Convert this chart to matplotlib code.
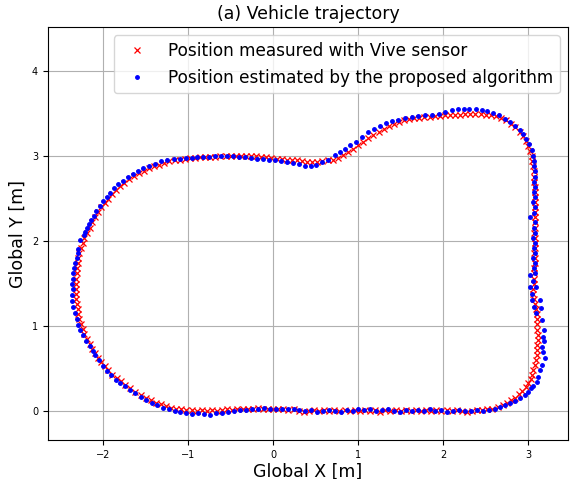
import matplotlib
matplotlib.use("Agg")
import matplotlib.pyplot as plt

# measured trajectory (Vive sensor)
meas_x = [-0.96, -0.90, -0.84, -0.78, -0.72, -0.66, -0.60, -0.54, -0.48, -0.42, -0.36, -0.30, -0.24, -0.18,
          -0.12, -0.06, 0.00, 0.06, 0.12, 0.18, 0.24, 0.30, 0.36, 0.42, 0.48, 0.54, 0.60, 0.66, 0.72, 0.78,
          0.84, 0.90, 0.96, 1.02, 1.08, 1.14, 1.20, 1.26, 1.32, 1.38, 1.44, 1.50, 1.56, 1.62, 1.68, 1.74,
          1.80, 1.86, 1.92, 1.98, 2.04, 2.10, 2.16, 2.22, 2.28, 2.34, 2.40, 2.46,
          2.52, 2.58, 2.64, 2.70, 2.75, 2.80, 2.85, 2.89, 2.93, 2.97, 3.00, 3.03, 3.05, 3.06, 3.08, 3.09,
          3.10, 3.11, 3.11, 3.12, 3.12, 3.11, 3.11, 3.10, 3.10, 3.09, 3.08, 3.07, 3.06, 3.06, 3.07, 3.07,
          3.07, 3.07, 3.08, 3.08, 3.07, 3.08, 3.08, 3.08, 3.07, 3.08, 3.08, 3.08, 3.08, 3.08, 3.08, 3.08,
          3.08, 3.08, 3.07, 3.07, 3.07, 3.06, 3.05, 3.04, 3.02, 3.00, 2.97, 2.94, 2.90, 2.85, 2.80, 2.74,
          2.68, 2.62, 2.56, 2.50, 2.44, 2.38, 2.32, 2.26, 2.20, 2.14, 2.08, 2.02, 1.96, 1.90, 1.84, 1.78,
          1.72, 1.66, 1.60, 1.54, 1.48, 1.42, 1.36, 1.30, 1.24, 1.18, 1.12, 1.06, 1.00, 0.94, 0.88, 0.82,
          0.76, 0.70, 0.64, 0.58, 0.52, 0.46, 0.40, 0.34, 0.28, 0.22, 0.16, 0.10, 0.04, -0.02, -0.08, -0.14,
          -0.20, -0.26, -0.32, -0.38, -0.44, -0.50, -0.56, -0.62, -0.68, -0.74, -0.80, -0.86, -0.92, -0.98,
          -1.04, -1.10, -1.16, -1.22, -1.28, -1.34, -1.40, -1.46, -1.52, -1.58, -1.64, -1.70, -1.75, -1.80,
          -1.85, -1.90, -1.94, -1.98, -2.02, -2.06, -2.10, -2.13, -2.16, -2.19, -2.22, -2.24, -2.26, -2.28,
          -2.29, -2.30, -2.31, -2.31, -2.32, -2.32, -2.32, -2.32, -2.32, -2.31, -2.30, -2.29, -2.28, -2.26,
          -2.24, -2.22, -2.19, -2.16, -2.13, -2.10, -2.06, -2.02, -1.98, -1.94, -1.89, -1.84, -1.79, -1.74,
          -1.68, -1.62, -1.56, -1.50, -1.44, -1.38, -1.32, -1.26, -1.20, -1.14, -1.08, -1.02]
meas_y = [0.01, 0.00, 0.01, 0.00, 0.01, 0.00, 0.01, 0.02, 0.01, 0.02, 0.02, 0.03, 0.03, 0.04,
          0.03, 0.03, 0.02, 0.02, 0.02, 0.01, 0.02, 0.00, -0.01, 0.00, 0.01, 0.00, 0.01, 0.00, 0.01, 0.00,
          0.01, 0.00, 0.01, 0.00, 0.01, 0.00, 0.01, -0.01, 0.01, 0.00, 0.01, 0.00, 0.01, 0.00, 0.01, 0.00,
          0.01, 0.00, 0.01, 0.00, 0.01, 0.00, 0.01, 0.00, -0.01, 0.00, 0.01, 0.01,
          0.02, 0.03, 0.05, 0.07, 0.10, 0.13, 0.16, 0.20, 0.24, 0.28, 0.33, 0.38, 0.43, 0.48, 0.54, 0.60,
          0.66, 0.72, 0.78, 0.84, 0.90, 0.96, 1.02, 1.08, 1.14, 1.20, 1.26, 1.32, 1.38, 1.44, 1.50, 1.56,
          1.62, 1.68, 1.74, 1.80, 1.86, 1.92, 1.98, 2.04, 2.10, 2.16, 2.22, 2.28, 2.34, 2.40, 2.46, 2.52,
          2.58, 2.64, 2.70, 2.76, 2.82, 2.88, 2.94, 3.00, 3.06, 3.12, 3.18, 3.24, 3.29, 3.34, 3.38, 3.42,
          3.45, 3.47, 3.48, 3.49, 3.50, 3.50, 3.50, 3.50, 3.49, 3.49, 3.48, 3.48, 3.47, 3.47, 3.46, 3.46,
          3.45, 3.45, 3.44, 3.42, 3.40, 3.38, 3.35, 3.32, 3.29, 3.25, 3.21, 3.17, 3.13, 3.09, 3.05, 3.01,
          2.98, 2.96, 2.95, 2.94, 2.93, 2.93, 2.93, 2.94, 2.95, 2.96, 2.96, 2.97, 2.97, 2.98, 2.99, 2.99,
          3.00, 3.00, 3.00, 3.00, 3.00, 3.00, 3.00, 3.00, 2.99, 2.99, 2.99, 2.99, 2.98, 2.98,
          2.97, 2.96, 2.95, 2.94, 2.92, 2.90, 2.88, 2.86, 2.83, 2.80, 2.77, 2.73, 2.69, 2.65,
          2.60, 2.55, 2.50, 2.45, 2.40, 2.34, 2.28, 2.22, 2.16, 2.10, 2.04, 1.98, 1.92, 1.86,
          1.80, 1.74, 1.68, 1.62, 1.56, 1.50, 1.44, 1.38, 1.32, 1.26, 1.20, 1.14, 1.08, 1.03,
          0.97, 0.91, 0.85, 0.79, 0.73, 0.68, 0.63, 0.58, 0.53, 0.48, 0.43, 0.39, 0.35, 0.31,
          0.27, 0.23, 0.19, 0.16, 0.13, 0.10, 0.08, 0.06, 0.04, 0.03, 0.02, 0.01]

# estimated trajectory (proposed algorithm)
est_x = [-1.02, -0.95, -0.88, -0.81, -0.74, -0.67, -0.60, -0.53, -0.46, -0.39, -0.32, -0.25, -0.18, -0.11,
         -0.04, 0.03, 0.10, 0.17, 0.24, 0.31, 0.38, 0.45, 0.52, 0.59, 0.66, 0.73, 0.80, 0.87, 0.94, 1.00,
         1.07, 1.14, 1.21, 1.28, 1.35, 1.42, 1.49, 1.56, 1.63, 1.70, 1.77, 1.84, 1.91, 1.98, 2.05, 2.12,
         2.19, 2.26, 2.33, 2.40, 2.47, 2.54,
         2.61, 2.67, 2.73, 2.79, 2.85, 2.91, 2.96, 3.00, 3.03, 3.06, 3.10, 3.12, 3.14, 3.16, 3.20, 3.18,
         3.16, 3.19, 3.18, 3.19, 3.16, 3.09, 3.15, 3.07, 3.14, 3.04, 3.04, 3.09, 3.02, 3.06, 3.02, 3.08,
         3.07, 3.08, 3.06, 3.08, 3.07, 3.08, 3.06, 3.08, 3.07, 3.08, 3.02, 3.07, 3.08, 3.06, 3.08, 3.07,
         3.08, 3.07, 3.08, 3.08, 3.07, 3.07, 3.06, 3.04, 3.01, 2.98, 2.94, 2.90, 2.85, 2.79, 2.73, 2.66,
         2.59, 2.52, 2.46, 2.39, 2.31, 2.24, 2.17, 2.10, 2.02, 1.95, 1.87, 1.79, 1.71, 1.63, 1.55, 1.47,
         1.40, 1.33, 1.26, 1.19, 1.12, 1.05, 0.98, 0.91, 0.85, 0.79, 0.73, 0.65, 0.58, 0.51, 0.44, 0.37,
         0.30, 0.23, 0.16, 0.09, 0.02, -0.05, -0.12, -0.19, -0.26, -0.33, -0.40, -0.47, -0.54, -0.61,
         -0.68, -0.75, -0.82, -0.89, -0.96, -1.03, -1.10, -1.17, -1.25, -1.32, -1.39, -1.46, -1.53, -1.59,
         -1.65, -1.71, -1.77, -1.82, -1.87, -1.92, -1.96, -2.00, -2.04, -2.08, -2.11, -2.14, -2.17, -2.19,
         -2.21, -2.23, -2.27, -2.29, -2.30, -2.31, -2.33, -2.34, -2.35, -2.36, -2.37, -2.36, -2.37, -2.37,
         -2.35, -2.33, -2.31, -2.29, -2.27, -2.24, -2.20, -2.16, -2.12, -2.09, -2.05, -2.00, -1.96, -1.91,
         -1.85, -1.80, -1.74, -1.68, -1.62, -1.56, -1.49, -1.43, -1.37, -1.30, -1.23, -1.16, -1.09]
est_y = [-0.02, -0.03, -0.02, -0.03, -0.04, -0.02, -0.02, -0.01, 0.00, 0.01, 0.01, 0.02, 0.03, 0.04,
         0.03, 0.03, 0.02, 0.03, 0.02, 0.01, 0.00, 0.01, -0.01, 0.00, 0.01, 0.00, -0.01, 0.01, 0.00, 0.03,
         0.01, 0.02, 0.00, 0.01, 0.02, 0.00, -0.01, 0.01, 0.00, 0.01, 0.00, 0.02, 0.00, 0.01, -0.01, 0.00,
         0.01, 0.00, 0.00, 0.01, 0.00, 0.01,
         0.03, 0.05, 0.07, 0.09, 0.12, 0.15, 0.19, 0.23, 0.27, 0.30, 0.34, 0.40, 0.48, 0.54, 0.62, 0.70,
         0.76, 0.82, 0.87, 0.95, 1.07, 1.15, 1.21, 1.23, 1.31, 1.31, 1.38, 1.46, 1.46, 1.53, 1.60, 1.62,
         1.68, 1.74, 1.80, 1.86, 1.92, 1.98, 2.04, 2.10, 2.16, 2.22, 2.29, 2.33, 2.40, 2.46, 2.52, 2.58,
         2.64, 2.70, 2.76, 2.82, 2.88, 2.94, 3.00, 3.07, 3.14, 3.20, 3.26, 3.31, 3.36, 3.40, 3.44, 3.48,
         3.51, 3.53, 3.54, 3.55, 3.55, 3.56, 3.55, 3.54, 3.52, 3.50, 3.49, 3.48, 3.47, 3.46, 3.45, 3.43,
         3.41, 3.39, 3.36, 3.32, 3.28, 3.22, 3.17, 3.13, 3.09, 3.05, 3.01, 2.96, 2.93, 2.90, 2.89, 2.89,
         2.91, 2.92, 2.93, 2.94, 2.95, 2.96, 2.97, 2.97, 2.98, 2.99, 2.99, 3.00, 3.00, 3.00,
         3.00, 2.99, 2.99, 2.99, 2.98, 2.98, 2.97, 2.97, 2.96, 2.94, 2.91, 2.89, 2.86, 2.83,
         2.79, 2.75, 2.71, 2.67, 2.62, 2.57, 2.52, 2.47, 2.41, 2.35, 2.30, 2.25, 2.20, 2.15,
         2.11, 2.07, 2.01, 1.91, 1.86, 1.80, 1.74, 1.68, 1.62, 1.56, 1.50, 1.44, 1.37, 1.29,
         1.22, 1.15, 1.08, 1.01, 0.95, 0.89, 0.83, 0.77, 0.71, 0.66, 0.60, 0.53, 0.47, 0.42,
         0.37, 0.33, 0.29, 0.25, 0.21, 0.17, 0.13, 0.10, 0.07, 0.04, 0.02, 0.00, -0.01]

fig = plt.figure(figsize=(5.7, 4.79), dpi=100)
ax = fig.add_axes([0.084, 0.0814, 0.9126, 0.8622])

ax.plot(meas_x, meas_y, 'rx', markersize=4.5, markeredgewidth=0.9,
        label='Position measured with Vive sensor')
ax.plot(est_x, est_y, 'b.', markersize=5,
        label='Position estimated by the proposed algorithm')

ax.set_xlim(-2.65, 3.47)
ax.set_ylim(-0.34, 4.52)
ax.set_xticks([-2, -1, 0, 1, 2, 3])
ax.set_yticks([0, 1, 2, 3, 4])
ax.tick_params(labelsize=7)
ax.grid(True, color='#b0b0b0', linewidth=0.8)
ax.set_axisbelow(True)

ax.set_title('(a) Vehicle trajectory', fontsize=12.5)
ax.set_xlabel('Global X [m]', fontsize=12.5, labelpad=2)
ax.set_ylabel('Global Y [m]', fontsize=12.5)
ax.legend(loc='upper right', fontsize=12.15)

fig.savefig('out.png', dpi=100)
